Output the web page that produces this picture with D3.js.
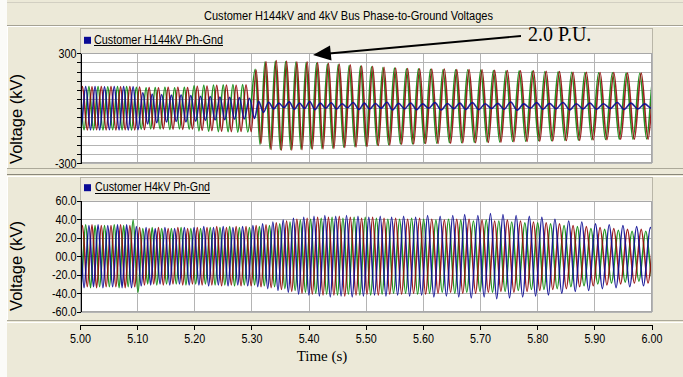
<!DOCTYPE html>
<html>
<head>
<meta charset="utf-8">
<script src="https://cdn.jsdelivr.net/npm/d3@7"></script>
<style>
  body { margin: 0; background: #ece9d8; }
  svg { display: block; }
  .tick text { font-family: "Liberation Sans", Arial, sans-serif; font-size: 12.5px; fill: #000; }
  .grid line { stroke: #b4b4b4; shape-rendering: crispEdges; }
  .grid path { display: none; }
  .axis path, .axis line { stroke: #000; shape-rendering: crispEdges; }
</style>
</head>
<body>
<div id="chart"></div>
<script>
// cycle boundaries (s), the system slows down after 5.30 s
const cycleStarts = [4.983, 5.000, 5.017, 5.033, 5.050, 5.067, 5.083, 5.100, 5.117, 5.133,
  5.150, 5.167, 5.184, 5.201, 5.218, 5.235, 5.252, 5.269, 5.286, 5.304,
  5.321, 5.339, 5.357, 5.375, 5.393, 5.411, 5.430, 5.449, 5.468, 5.488,
  5.507, 5.527, 5.547, 5.568, 5.589, 5.610, 5.632, 5.654, 5.675, 5.698,
  5.720, 5.742, 5.765, 5.788, 5.810, 5.833, 5.857, 5.880, 5.904, 5.928,
  5.952, 5.976, 6.000, 6.024];
const eventCycle = 19;

// 144 kV bus, per-cycle peak (kV) for each phase, plus neutral shift
const topBias = [0, 0, 0, 0, 0, 0, 0, 0, 0, 0, 0, 0, 0, 0, 0, 0, 0, 0, 0, 8,
  15, 16, 15, 14, 15, 14, 13, 14, 13, 12, 13, 12, 12, 11, 12, 11, 12, 11, 12, 12,
  11, 12, 12, 13, 12, 12, 11, 12, 12, 13, 12, 12, 12];
const topRed = [118, 118, 117, 118, 118, 117, 118, 116, 113, 112, 114, 115, 113,
  120, 122, 125, 127, 126, 128, 200, 240, 245, 243, 240, 238, 236,
  232, 228, 224, 220, 216, 212, 208, 206, 204, 203, 202, 200,
  199, 198, 196, 194, 193, 192, 190, 188, 186, 184, 183, 182, 180, 180, 179];
const topGreen = [118, 117, 118, 118, 117, 118, 118, 114, 112, 113, 115, 112, 114,
  123, 125, 127, 128, 130, 129, 205, 238, 242, 240, 238, 236, 233,
  230, 226, 222, 218, 214, 210, 207, 205, 203, 202, 200, 199,
  198, 196, 195, 193, 192, 190, 189, 187, 185, 183, 182, 181, 180, 179, 178];
const topBlue = [118, 118, 118, 117, 118, 118, 117, 85, 78, 75, 72, 74, 70,
  66, 64, 62, 60, 58, 55, 30, 18, 12, 20, 15, 22, 14, 17, 11, 19, 16,
  13, 21, 15, 18, 12, 20, 14, 17, 19, 13, 16, 22, 12, 18, 15, 20, 14, 17, 13, 19, 16, 12, 18];

// 4 kV bus, per-cycle peak (kV)
const lowBlue = [34, 34, 33, 34, 33, 34, 34, 32, 31, 30, 31, 30, 31,
  31, 32, 31, 32, 31, 32, 33, 35, 37, 39, 41, 42, 43,
  44, 43, 44, 43, 42, 43, 42, 43, 42, 44, 43, 44,
  45, 44, 46, 45, 44, 43, 42, 40, 38, 37, 35, 34, 33, 32, 31];
const lowRed = [33, 33, 34, 33, 33, 34, 33, 31, 30, 31, 30, 31, 30,
  31, 31, 32, 31, 32, 32, 33, 34, 36, 38, 40, 41, 42,
  42, 43, 42, 41, 42, 41, 41, 40, 41, 40, 39, 40,
  40, 39, 38, 39, 38, 37, 36, 35, 33, 32, 31, 30, 29, 29, 28];
const lowGreen = [33, 34, 33, 33, 34, 33, 39, 30, 31, 30, 30, 31, 30,
  30, 31, 31, 32, 31, 31, 32, 33, 35, 37, 39, 40, 41,
  42, 41, 42, 42, 41, 40, 40, 41, 40, 39, 40, 39,
  38, 39, 38, 37, 36, 36, 35, 33, 32, 30, 29, 28, 27, 27, 26];

// phase position inside a cycle (fraction), before / after the event
const lagTop = { red: [0, 0], green: [-0.333, -0.1], blue: [0.333, 0.25] };
const lagLow = { red: [0, 0], green: [0.333, 0.333], blue: [-0.333, -0.333] };

const xTicks = [5.0, 5.1, 5.2, 5.3, 5.4, 5.5, 5.6, 5.7, 5.8, 5.9, 6.0];
const topTicks = [-300, -250, -200, -150, -100, -50, 0, 50, 100, 150, 200, 250, 300];
const lowTicks = [-60, -40, -20, 0, 20, 40, 60];
const lowTickLabels = ['-60.0', '-40.0', '-20.0', '00.0', '20.0', '40.0', '60.0'];

const W = 683, H = 377;
const plotL = 80, plotR = 652;
const colors = { red: '#920808', green: '#0a880a', blue: '#0a0a92' };

const svg = d3.select('#chart').append('svg').attr('width', W).attr('height', H);

svg.append('rect').attr('width', W).attr('height', H).attr('fill', '#ece9d8');
svg.append('rect').attr('width', 7).attr('height', H).attr('fill', '#fbfbf8');

function hline(y, x1, x2, color) {
  svg.append('line').attr('x1', x1).attr('x2', x2).attr('y1', y).attr('y2', y)
    .attr('stroke', color).attr('shape-rendering', 'crispEdges');
}
function vline(x, y1, y2, color) {
  svg.append('line').attr('x1', x).attr('x2', x).attr('y1', y1).attr('y2', y2)
    .attr('stroke', color).attr('shape-rendering', 'crispEdges');
}
// narrow the tick labels like the original condensed face
function squeeze(sel, k) {
  sel.selectAll('.tick text').each(function () {
    const w = this.getComputedTextLength();
    if (w > 0) {
      this.setAttribute('textLength', w * k);
      this.setAttribute('lengthAdjust', 'spacingAndGlyphs');
    }
  });
}

// title bar
hline(2.5, 7, W, '#d2cfc2');
hline(25.5, 7, W, '#a5a294');
hline(26.5, 7, W, '#ffffff');
svg.append('text')
  .attr('x', 348.5).attr('y', 20)
  .attr('text-anchor', 'middle')
  .attr('font-family', '"Liberation Sans", Arial, sans-serif')
  .attr('font-size', 12.5)
  .attr('textLength', 289).attr('lengthAdjust', 'spacingAndGlyphs')
  .text('Customer H144kV and 4kV Bus Phase-to-Ground Voltages');

// panel frames
vline(7.5, 27, 169, '#ffffff');
hline(168.5, 7, W, '#aca999');
hline(174.5, 7, W, '#8a877a');
hline(176.5, 7, W, '#ffffff');
vline(7.5, 177, 321, '#ffffff');
hline(320.5, 7, W, '#aca999');
hline(322.5, 7, W, '#ffffff');

const x = d3.scaleLinear().domain([5.0, 6.0]).range([plotL, 651.5]);

function wavePoints(amps, lags, bias) {
  const pts = [];
  for (let k = 0; k < amps.length; k++) {
    const s = cycleStarts[k], p = cycleStarts[k + 1] - s;
    const lag = k < eventCycle ? lags[0] : lags[1];
    const b = bias ? bias[k] : 0;
    [[0.25, 1], [0.75, -1]].forEach(([f, sign]) => {
      const t = s + (lag + f) * p;
      if (!pts.length || t > pts[pts.length - 1][0] + 0.002) pts.push([t, b + sign * amps[k]]);
    });
  }
  return pts;
}

function panel(opts) {
  const { top, bottom, domain, ticks, labelOf, series, legend, legendTop, id, titleY } = opts;
  const y = d3.scaleLinear().domain(domain).range([bottom, top]);

  // legend strip
  svg.append('rect')
    .attr('x', plotL + 0.5).attr('y', legendTop + 0.5)
    .attr('width', plotR - plotL).attr('height', top - legendTop)
    .attr('fill', '#eeebdf').attr('stroke', '#b9b6a8').attr('shape-rendering', 'crispEdges');
  svg.append('rect')
    .attr('x', 84).attr('y', top - 16.5).attr('width', 7).attr('height', 7)
    .attr('fill', '#0a0a96');
  svg.append('text')
    .attr('x', legend.x).attr('y', top - 9.5)
    .attr('font-family', '"Liberation Sans", Arial, sans-serif')
    .attr('font-size', 13.5)
    .attr('textLength', legend.w).attr('lengthAdjust', 'spacingAndGlyphs')
    .text(legend.text);
  svg.append('line')
    .attr('x1', legend.x).attr('x2', legend.x + legend.w)
    .attr('y1', top - 7.5).attr('y2', top - 7.5)
    .attr('stroke', '#000').attr('shape-rendering', 'crispEdges');

  // plot area
  svg.append('rect')
    .attr('x', plotL).attr('y', top)
    .attr('width', plotR - plotL).attr('height', bottom - top)
    .attr('fill', '#fff');

  svg.append('g').attr('class', 'grid')
    .attr('transform', `translate(0,${bottom})`)
    .call(d3.axisBottom(x).tickValues(xTicks).tickSize(-(bottom - top)).tickFormat(''));
  svg.append('g').attr('class', 'grid')
    .attr('transform', `translate(${plotL},0)`)
    .call(d3.axisLeft(y).tickValues(ticks).tickSize(-(plotR - plotL)).tickFormat(''));

  svg.append('rect')
    .attr('x', plotL + 0.5).attr('y', top + 0.5)
    .attr('width', plotR - plotL - 1).attr('height', bottom - top - 1)
    .attr('fill', 'none').attr('stroke', '#a8a8a8').attr('shape-rendering', 'crispEdges');

  svg.append('clipPath').attr('id', id)
    .append('rect').attr('x', plotL + 1).attr('y', top + 1)
    .attr('width', plotR - plotL - 2).attr('height', bottom - top - 2);

  const line = d3.line()
    .x(d => x(d[0]))
    .y(d => y(d[1]))
    .curve(d3.curveMonotoneX);

  const g = svg.append('g').attr('clip-path', `url(#${id})`);
  series.forEach(s => {
    g.append('path')
      .datum(wavePoints(s.amps, s.lags, s.bias))
      .attr('d', line)
      .attr('fill', 'none')
      .attr('stroke', colors[s.color])
      .attr('stroke-width', 1.6)
      .attr('stroke-opacity', 0.9);
  });

  svg.append('g').attr('class', 'axis')
    .attr('transform', `translate(${plotL + 0.5},0)`)
    .call(d3.axisLeft(y).tickValues(ticks).tickSize(3.5).tickSizeOuter(0).tickPadding(0.5)
      .tickFormat(labelOf))
    .call(squeeze, 0.86);

  svg.append('text')
    .attr('transform', `translate(21.5,${titleY}) rotate(-90)`)
    .attr('text-anchor', 'middle')
    .attr('font-family', '"Liberation Sans", Arial, sans-serif')
    .attr('font-size', 16.5)
    .text('Voltage (kV)');
  return y;
}

panel({
  id: 'clipTop', top: 53.3, bottom: 163.3, legendTop: 28, titleY: 119,
  domain: [-300, 300], ticks: topTicks,
  labelOf: d => (d === 300 || d === -300) ? String(d) : '',
  legend: { text: 'Customer H144kV Ph-Gnd', x: 94, w: 129 },
  series: [
    { color: 'green', amps: topGreen, lags: lagTop.green, bias: topBias },
    { color: 'red', amps: topRed, lags: lagTop.red, bias: topBias },
    { color: 'blue', amps: topBlue, lags: lagTop.blue, bias: topBias }
  ]
});

panel({
  id: 'clipLow', top: 200.7, bottom: 311.7, legendTop: 176.5, titleY: 266,
  domain: [-60, 60], ticks: lowTicks,
  labelOf: d => lowTickLabels[lowTicks.indexOf(d)],
  legend: { text: 'Customer H4kV Ph-Gnd', x: 95, w: 115 },
  series: [
    { color: 'green', amps: lowGreen, lags: lagLow.green },
    { color: 'red', amps: lowRed, lags: lagLow.red },
    { color: 'blue', amps: lowBlue, lags: lagLow.blue }
  ]
});

// shared time axis
svg.append('g').attr('class', 'axis')
  .attr('transform', 'translate(0,324.5)')
  .call(d3.axisBottom(x).tickValues(xTicks).tickSize(5).tickSizeOuter(0).tickPadding(5)
    .tickFormat(d3.format('.2f')))
  .call(squeeze, 0.86);

svg.append('text')
  .attr('x', 322).attr('y', 361)
  .attr('text-anchor', 'middle')
  .attr('font-family', '"Liberation Serif", "Times New Roman", serif')
  .attr('font-size', 15)
  .text('Time (s)');

// annotation
svg.append('line')
  .attr('x1', 521).attr('y1', 36).attr('x2', 318).attr('y2', 54.5)
  .attr('stroke', '#000').attr('stroke-width', 1.8);
svg.append('path')
  .attr('d', 'M313,55 L330,45.5 L331.5,60.5 Z')
  .attr('fill', '#000');
svg.append('text')
  .attr('x', 528).attr('y', 41)
  .attr('font-family', '"Liberation Serif", "Times New Roman", serif')
  .attr('font-size', 20)
  .text('2.0 P.U.');
</script>
</body>
</html>
